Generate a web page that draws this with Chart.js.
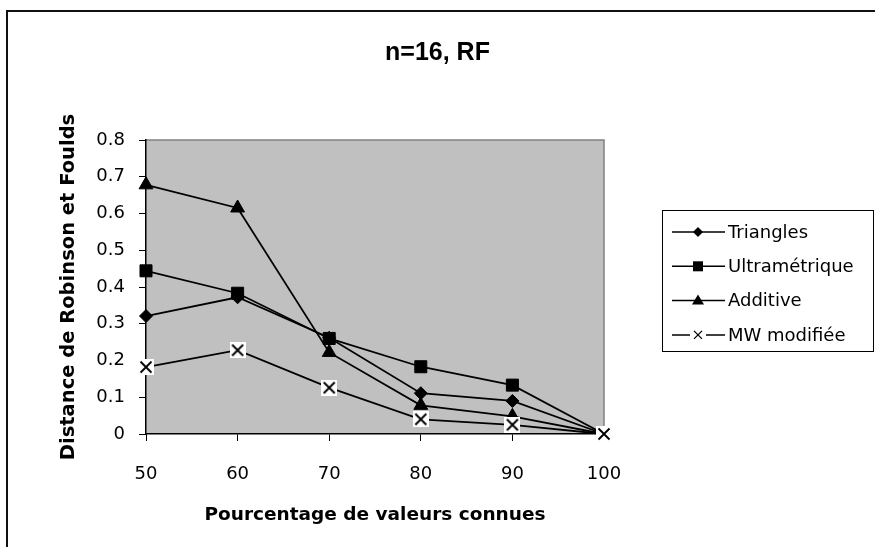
<!DOCTYPE html>
<html>
<head>
<meta charset="utf-8">
<script src="https://cdn.jsdelivr.net/npm/chart.js@4/dist/chart.umd.min.js"></script>
<style>
  html, body { margin: 0; padding: 0; background: #fff; }
  #wrap { width: 875px; height: 547px; }
</style>
</head>
<body>
<div id="wrap"><canvas id="rfChart" width="875" height="547"></canvas></div>
<script>
// values
const pourcentages = ['50', '60', '70', '80', '90', '100'];
const triangles     = [0.321, 0.372, 0.262, 0.111, 0.090, 0];
const ultrametrique = [0.444, 0.383, 0.260, 0.183, 0.133, 0];
const additive      = [0.678, 0.615, 0.222, 0.078, 0.048, 0];
const mwModifiee    = [0.182, 0.228, 0.126, 0.040, 0.025, 0];
const yTickLabels   = ['0', '0.1', '0.2', '0.3', '0.4', '0.5', '0.6', '0.7', '0.8'];
const seriesNames   = ['Triangles', 'Ultramétrique', 'Additive', 'MW modifiée'];

// X marker sitting on a white square, like the original
function makeCrossMarker() {
    const c = document.createElement('canvas');
    c.width = 16; c.height = 16;
    const g = c.getContext('2d');
    g.fillStyle = '#fff';
    g.fillRect(0, 0, 16, 16);
    g.strokeStyle = '#000';
    g.lineWidth = 1.9;
    g.beginPath();
    g.moveTo(2.5, 2.5); g.lineTo(13.5, 13.5);
    g.moveTo(13.5, 2.5); g.lineTo(2.5, 13.5);
    g.stroke();
    return c;
}
const crossMarker = makeCrossMarker();

function drawLegendMarker(ctx, kind, x, y) {
    ctx.fillStyle = '#000';
    ctx.strokeStyle = '#000';
    ctx.beginPath();
    if (kind === 'diamond') {
        ctx.moveTo(x, y - 5); ctx.lineTo(x + 5, y); ctx.lineTo(x, y + 5); ctx.lineTo(x - 5, y);
        ctx.closePath(); ctx.fill();
    } else if (kind === 'square') {
        ctx.fillRect(x - 5, y - 5, 10, 10);
    } else if (kind === 'triangle') {
        ctx.moveTo(x, y - 6); ctx.lineTo(x + 6, y + 4); ctx.lineTo(x - 6, y + 4);
        ctx.closePath(); ctx.fill();
    } else {
        ctx.lineWidth = 1.3;
        ctx.moveTo(x - 4, y - 4); ctx.lineTo(x + 4, y + 4);
        ctx.moveTo(x + 4, y - 4); ctx.lineTo(x - 4, y + 4);
        ctx.stroke();
    }
}

const framePlugin = {
    id: 'frame',
    beforeDraw(chart) {
        const ctx = chart.ctx;
        const a = chart.chartArea;
        ctx.save();
        // outer frame (only top and left are visible in the picture)
        ctx.strokeStyle = '#111';
        ctx.lineWidth = 2;
        ctx.beginPath();
        ctx.moveTo(7, 547); ctx.lineTo(7, 11); ctx.lineTo(875, 11);
        ctx.stroke();
        // plot background
        ctx.fillStyle = '#c0c0c0';
        ctx.fillRect(a.left, a.top, a.right - a.left, a.bottom - a.top);
        ctx.strokeStyle = '#808080';
        ctx.lineWidth = 1.5;
        ctx.beginPath();
        ctx.moveTo(a.left, a.top); ctx.lineTo(a.right, a.top); ctx.lineTo(a.right, a.bottom);
        ctx.stroke();
        ctx.restore();
    },
    afterDraw(chart) {
        const ctx = chart.ctx;
        const kinds = ['diamond', 'square', 'triangle', 'cross'];
        const bx = 662, by = 210, bw = 212, bh = 142;
        ctx.save();
        ctx.fillStyle = '#fff';
        ctx.fillRect(bx, by, bw, bh);
        ctx.strokeStyle = '#000';
        ctx.lineWidth = 1;
        ctx.strokeRect(bx + 0.5, by + 0.5, bw - 1, bh - 1);
        ctx.font = '18px "DejaVu Sans"';
        ctx.textBaseline = 'middle';
        seriesNames.forEach((name, i) => {
            const y = 232 + i * 34.3;
            ctx.strokeStyle = '#000';
            ctx.lineWidth = 1.5;
            ctx.beginPath();
            if (kinds[i] === 'cross') {
                ctx.moveTo(672, y); ctx.lineTo(690, y);
                ctx.moveTo(706, y); ctx.lineTo(725, y);
            } else {
                ctx.moveTo(672, y); ctx.lineTo(725, y);
            }
            ctx.stroke();
            drawLegendMarker(ctx, kinds[i], 698, y);
            ctx.fillStyle = '#000';
            ctx.fillText(name, 728, y + 1);
        });
        ctx.restore();
    }
};

// order: later series of the original sit on top (lower order = drawn last)
function makeDataset(label, data, style, radius, order) {
    return {
        label: label,
        data: data,
        order: order,
        borderColor: '#000',
        borderWidth: 1.8,
        backgroundColor: '#000',
        pointStyle: style,
        pointRadius: radius,
        pointHoverRadius: radius,
        pointBackgroundColor: '#000',
        pointBorderColor: '#000',
        pointBorderWidth: 1,
        tension: 0,
        fill: false,
        clip: false
    };
}

Chart.defaults.color = '#000';
Chart.defaults.font.family = '"DejaVu Sans", Verdana, sans-serif';

new Chart(document.getElementById('rfChart'), {
    type: 'line',
    data: {
        labels: pourcentages,
        datasets: [
            makeDataset(seriesNames[0], triangles, 'rectRot', 6.5, 4),
            makeDataset(seriesNames[1], ultrametrique, 'rect', 8.5, 3),
            makeDataset(seriesNames[2], additive, 'triangle', 8, 2),
            makeDataset(seriesNames[3], mwModifiee, crossMarker, 8, 1)
        ]
    },
    options: {
        responsive: false,
        animation: false,
        events: [],
        layout: { padding: 0 },
        plugins: {
            legend: { display: false },
            tooltip: { enabled: false },
            title: {
                display: true,
                text: 'n=16, RF',
                font: { family: '"Liberation Sans", Arial, sans-serif', size: 25, weight: 'bold' },
                padding: { top: 38, bottom: 72 }
            }
        },
        scales: {
            x: {
                type: 'category',
                offset: false,
                afterFit(scale) { scale.height = 113; },
                grid: {
                    offset: false,
                    drawOnChartArea: false,
                    drawTicks: true,
                    tickLength: 7,
                    color: '#000'
                },
                border: { display: true, color: '#000', width: 1.5 },
                ticks: { font: { size: 18 }, padding: 23, maxRotation: 0 },
                title: {
                    display: true,
                    text: 'Pourcentage de valeurs connues',
                    font: { size: 18.5, weight: 'bold' },
                    padding: { top: 0, bottom: 21 }
                }
            },
            y: {
                min: 0,
                max: 0.8,
                afterFit(scale) { scale.width = 146; },
                grid: {
                    drawOnChartArea: false,
                    drawTicks: true,
                    tickLength: 7,
                    color: '#000'
                },
                border: { display: true, color: '#000', width: 1.5 },
                ticks: {
                    stepSize: 0.1,
                    font: { size: 18 },
                    padding: 14,
                    callback: (value, index) => yTickLabels[index]
                },
                title: {
                    display: true,
                    text: 'Distance de Robinson et Foulds',
                    font: { size: 19.5, weight: 'bold' },
                    padding: { top: 57, bottom: 0 }
                }
            },
            // empty axis on the right that keeps room for the legend box
            room: {
                type: 'linear',
                position: 'right',
                display: true,
                afterFit(scale) { scale.width = 271; },
                grid: { display: false },
                border: { display: false },
                ticks: { display: false }
            }
        }
    },
    plugins: [framePlugin]
});
</script>
</body>
</html>
